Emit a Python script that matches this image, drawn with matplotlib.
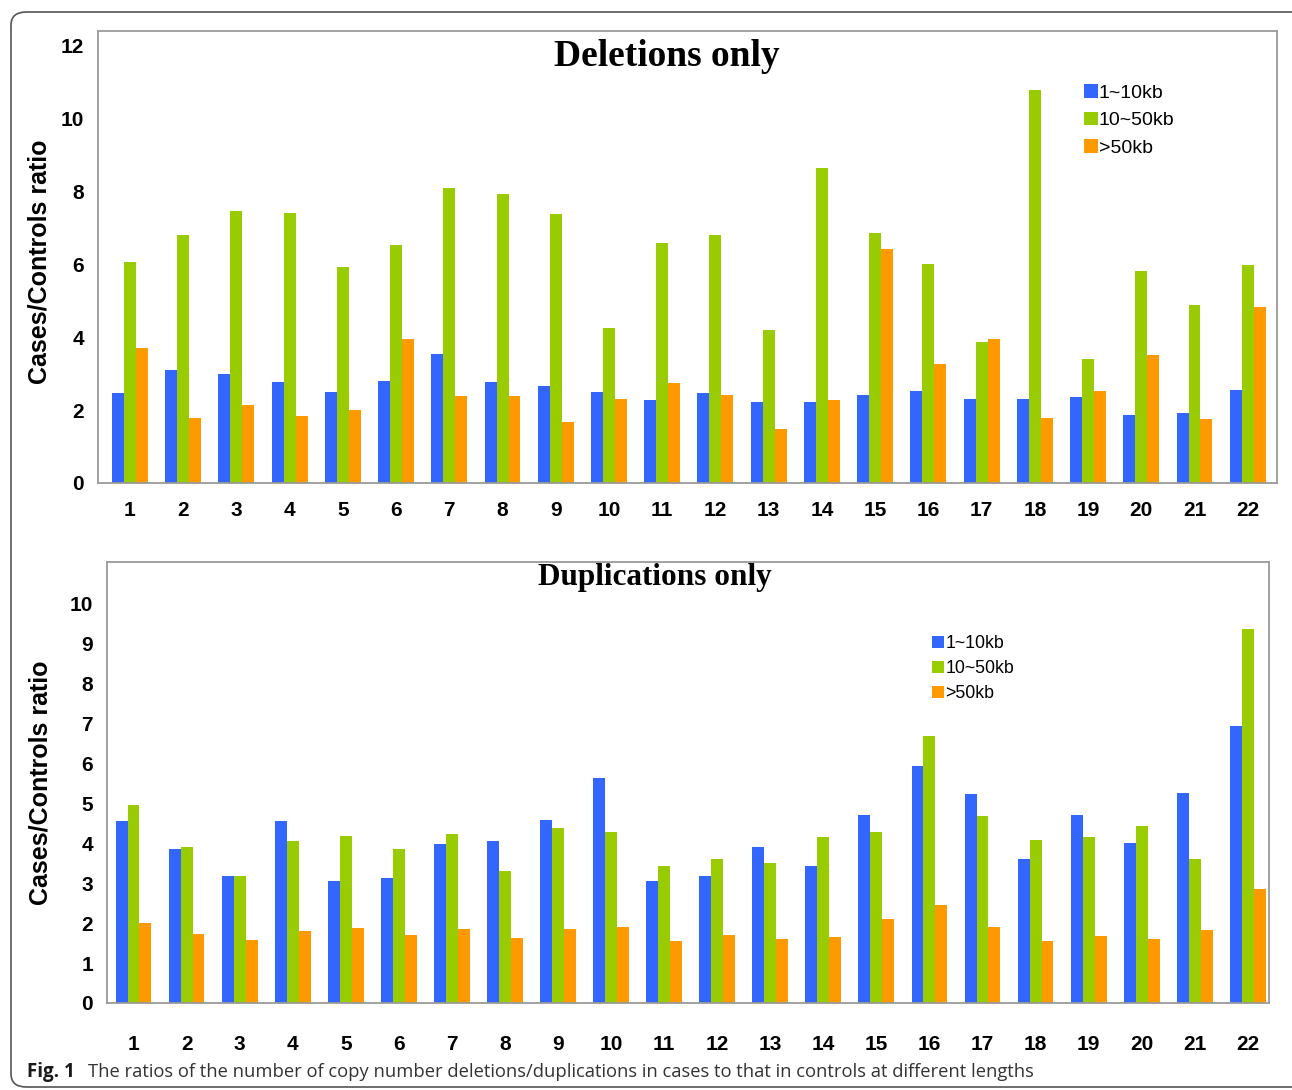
import matplotlib
matplotlib.use("Agg")
import matplotlib.pyplot as plt
import numpy as np
from matplotlib.patches import FancyBboxPatch

chromosomes = [str(i) for i in range(1, 23)]
size_labels = ["1~10kb", "10~50kb", ">50kb"]
colors = ["#3366FF", "#99CC00", "#FF9900"]

# Deletions only
del_small = [2.47, 3.11, 2.99, 2.77, 2.50, 2.81, 3.55, 2.77, 2.65, 2.51, 2.27,
             2.47, 2.22, 2.23, 2.41, 2.53, 2.31, 2.30, 2.37, 1.87, 1.92, 2.55]
del_mid = [6.05, 6.80, 7.46, 7.41, 5.92, 6.54, 8.08, 7.93, 7.39, 4.26, 6.58,
           6.79, 4.20, 8.64, 6.87, 6.02, 3.88, 10.78, 3.40, 5.81, 4.88, 5.99]
del_large = [3.71, 1.79, 2.13, 1.84, 2.00, 3.95, 2.38, 2.39, 1.68, 2.30, 2.74,
             2.41, 1.49, 2.28, 6.42, 3.27, 3.94, 1.78, 2.53, 3.52, 1.75, 4.84]

# Duplications only
dup_small = [4.56, 3.84, 3.17, 4.54, 3.05, 3.12, 3.98, 4.06, 4.58, 5.62, 3.06,
             3.17, 3.91, 3.42, 4.70, 5.93, 5.23, 3.61, 4.70, 4.01, 5.26, 6.94]
dup_mid = [4.95, 3.91, 3.17, 4.06, 4.17, 3.85, 4.23, 3.30, 4.37, 4.27, 3.43,
           3.61, 3.51, 4.14, 4.27, 6.68, 4.67, 4.07, 4.15, 4.42, 3.61, 9.35]
dup_large = [1.99, 1.73, 1.58, 1.80, 1.88, 1.71, 1.86, 1.63, 1.84, 1.89, 1.54,
             1.71, 1.61, 1.66, 2.10, 2.44, 1.89, 1.54, 1.67, 1.59, 1.83, 2.85]

W, H = 1292, 1090
fig = plt.figure(figsize=(W / 100, H / 100), dpi=100)
fig.patch.set_facecolor("white")


def px_axes(left, top, right, bottom):
    return fig.add_axes([left / W, 1 - bottom / H, (right - left) / W, (bottom - top) / H])


def draw_panel(ax, series, ylim, yticks, title, title_xy, title_size,
               legend_xy, legend_size, legend_spacing, xlim, xpad):
    x = np.arange(1, len(chromosomes) + 1)
    width = 0.225
    for i, (vals, col, lab) in enumerate(zip(series, colors, size_labels)):
        ax.bar(x + (i - 1) * width, vals, width, color=col, label=lab, linewidth=0)
    ax.set_xlim(*xlim)
    ax.set_ylim(*ylim)
    ax.set_yticks(yticks)
    ax.set_xticks(x)
    ax.set_xticklabels(chromosomes)
    for lbl in ax.get_xticklabels() + ax.get_yticklabels():
        lbl.set_fontfamily("Liberation Sans")
        lbl.set_fontweight("bold")
        lbl.set_fontsize(15)
    ax.tick_params(axis="both", length=0)
    ax.tick_params(axis="y", pad=10)
    ax.tick_params(axis="x", pad=xpad)
    for sp in ax.spines.values():
        sp.set_color("#9a9a9a")
        sp.set_linewidth(1.3)
    fig.text(title_xy[0] / W, 1 - title_xy[1] / H, title, ha="center", va="center",
             fontsize=title_size, fontweight="bold", fontfamily="Liberation Serif")
    ax.legend(loc="upper left", bbox_to_anchor=(legend_xy[0] / W, 1 - legend_xy[1] / H),
              bbox_transform=fig.transFigure, frameon=False, borderpad=0,
              borderaxespad=0, handlelength=0.7, handleheight=0.7,
              handletextpad=0.05, labelspacing=legend_spacing,
              prop={"family": "Liberation Sans", "size": legend_size})


ax1 = px_axes(98, 31, 1277, 483)
draw_panel(ax1, [del_small, del_mid, del_large], (0, 12.4), range(0, 13, 2),
           "Deletions only", (667, 56), 27, (1084, 84), 14, 0.52,
           (0.4, 22.55), 13)
ax1.set_ylabel("Cases/Controls ratio", fontsize=18, fontweight="bold",
               fontfamily="Liberation Sans")
ax1.yaxis.set_label_coords(-(98 - 52) / 1179, 0.49)

ax2 = px_axes(107, 562, 1269, 1003)
draw_panel(ax2, [dup_small, dup_mid, dup_large], (0, 11.03), range(0, 11),
           "Duplications only", (655, 578), 22.5, (932, 635), 12.8, 0.45,
           (0.5, 22.4), 23)
ax2.set_ylabel("Cases/Controls ratio", fontsize=18, fontweight="bold",
               fontfamily="Liberation Sans")
ax2.yaxis.set_label_coords(-(107 - 52) / 1162, 0.5)

# rounded frame around the whole figure
frame = FancyBboxPatch((11 / W, 1 - 1087 / H), (1320 - 11) / W, (1087 - 12) / H,
                       boxstyle="round,pad=0,rounding_size=0.012",
                       transform=fig.transFigure, facecolor="none",
                       edgecolor="#555555", linewidth=1.2, clip_on=False)
fig.patches.append(frame)

fig.text(27 / W, 1 - 1072 / H, "Fig. 1", ha="left", va="center", fontsize=13.5,
         fontweight="bold", fontfamily="Open Sans", color="#1a1a1a")
fig.text(88 / W, 1 - 1072 / H,
         "The ratios of the number of copy number deletions/duplications in cases to that in controls at different lengths",
         ha="left", va="center", fontsize=13.2, fontfamily="Open Sans", color="#333333")

plt.savefig("out.png", dpi=100, facecolor="white")
plt.close(fig)
